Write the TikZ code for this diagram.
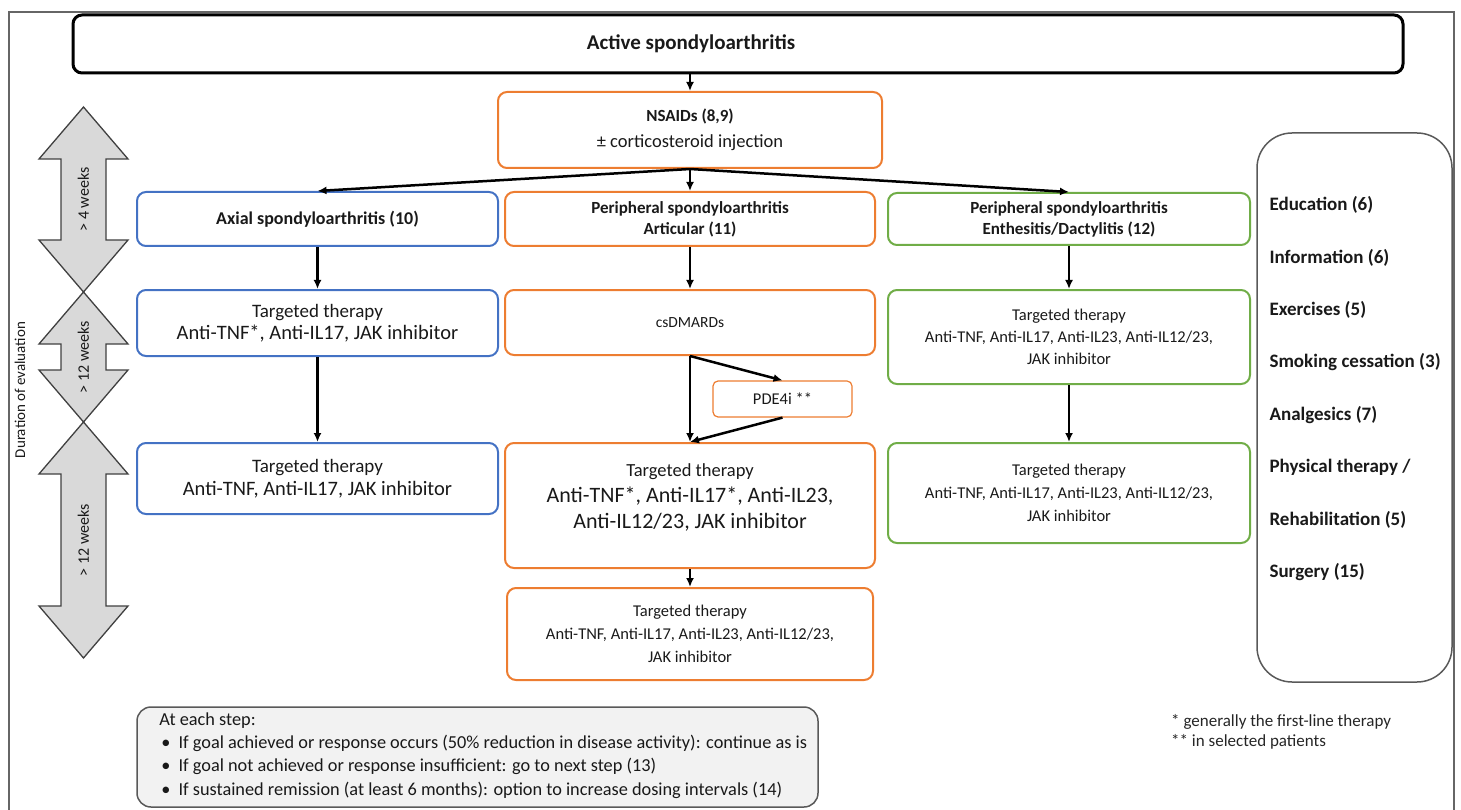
\documentclass[tikz,border=0pt]{standalone}
\usepackage{fontspec}
\setmainfont{Carlito}
\usetikzlibrary{arrows.meta}
\definecolor{axblue}{HTML}{4472C4}
\definecolor{perorange}{HTML}{ED7D31}
\definecolor{entgreen}{HTML}{70AD47}
\definecolor{weekgray}{HTML}{D9D9D9}
\definecolor{notegray}{HTML}{F2F2F2}
\newcommand{\fsz}[2]{\fontsize{#1}{#2}\selectfont}
\tikzset{
  box/.style={draw, rounded corners=9pt, line width=2pt, align=center, inner sep=1pt, text=black!90},
  axbox/.style={box, draw=axblue, minimum width=361pt},
  perbox/.style={box, draw=perorange, minimum width=370pt},
  entbox/.style={box, draw=entgreen, minimum width=362pt},
  link/.style={-{Latex[length=9pt,width=8pt]}, line width=2.5pt},
}
\begin{document}
\begin{tikzpicture}[x=1pt, y=-1pt]
\useasboundingbox (0,0) rectangle (1461,810);
\draw[black!60, line width=1.2pt] (9,815) -- (9,12) -- (1454,12) -- (1454,815);

% start and first line
\node[box, draw=black, line width=3pt, minimum width=1330pt, minimum height=58pt, font=\fsz{21}{24}\bfseries] (title) at (738,44) {Active spondyloarthritis\hspace*{94pt}};
\node[box, draw=perorange, minimum width=384pt, minimum height=76pt, font=\fsz{18.5}{26}] (nsaid) at (690,130) {{\fsz{17}{26}\bfseries NSAIDs (8,9)}\\± corticosteroid injection};

% three forms
\node[axbox, minimum height=54pt, font=\fsz{18}{21}\bfseries] (axial) at (317.5,219) {Axial spondyloarthritis (10)};
\node[perbox, minimum height=54pt, font=\fsz{17}{21}\bfseries] (artic) at (690,219) {Peripheral spondyloarthritis\\Articular (11)};
\node[entbox, minimum height=52pt, font=\fsz{17}{21}\bfseries] (enth) at (1069,219) {Peripheral spondyloarthritis\\Enthesitis/Dactylitis (12)};

% second step
\node[axbox, minimum height=66pt, font=\fsz{19}{22}] (axtt1) at (317.5,323) {Targeted therapy\\{\fsz{20.5}{22}Anti-TNF*, Anti-IL17, JAK inhibitor}};
\node[perbox, minimum height=65pt, font=\fsz{15.5}{20}] (csdm) at (690,322.5) {csDMARDs};
\node[entbox, minimum height=94pt, font=\fsz{16.5}{22}] (enttt1) at (1069,337) {Targeted therapy\\Anti-TNF, Anti-IL17, Anti-IL23, Anti-IL12/23,\\JAK inhibitor};
\node[box, draw=perorange, line width=1.2pt, rounded corners=5pt, minimum width=139pt, minimum height=36pt, font=\fsz{16.5}{18}] (pde) at (782.5,399) {PDE4i **};

% third step
\node[axbox, minimum height=71pt, font=\fsz{19}{23}] (axtt2) at (317.5,478.5) {Targeted therapy\\{\fsz{20.5}{23}Anti-TNF, Anti-IL17, JAK inhibitor}};
\node[perbox, minimum height=125pt, text depth=19pt, font=\fsz{18.5}{26}] (pertt1) at (690,505.5) {Targeted therapy\\{\fsz{22}{26}Anti-TNF*, Anti-IL17*, Anti-IL23,}\\{\fsz{22}{26}Anti-IL12/23, JAK inhibitor}};
\node[entbox, minimum height=100pt, font=\fsz{16.5}{23}] (enttt2) at (1069,493) {Targeted therapy\\Anti-TNF, Anti-IL17, Anti-IL23, Anti-IL12/23,\\JAK inhibitor};

% fourth step
\node[box, draw=perorange, minimum width=366pt, minimum height=92pt, font=\fsz{16.5}{23}] (pertt2) at (690,634) {Targeted therapy\\Anti-TNF, Anti-IL17, Anti-IL23, Anti-IL12/23,\\JAK inhibitor};

% arrows
\draw[link] (title.south -| nsaid.north) -- (nsaid.north);
\foreach \dst in {axial, artic, enth}
  \draw[link] (nsaid.south) -- (\dst.north);
\draw[link] (axial) -- (axtt1);
\draw[link] (axtt1) -- (axtt2);
\draw[link] (artic) -- (csdm);
\draw[link] (csdm) -- (pertt1);
\draw[link] (csdm.south) -- (pde.north);
\draw[link] (pde.south) -- (pertt1.north);
\draw[link] (pertt1) -- (pertt2);
\draw[link] (enth) -- (enttt1);
\draw[link] (enttt1) -- (enttt2);

% duration arrows
\foreach \ya/\yb/\lbl [count=\i] in {107/292/{> 4 weeks}, 292/422/{> 12 weeks}, 422/658/{> 12 weeks}}
{
  \draw[fill=weekgray, draw=black!75, line width=1.3pt] (83.5,\ya) -- (128,{\ya+52}) -- (106,{\ya+52}) -- (106,{\yb-52}) -- (128,{\yb-52}) -- (83.5,\yb)
    -- (39,{\yb-52}) -- (61,{\yb-52}) -- (61,{\ya+52}) -- (39,{\ya+52}) -- cycle;
  \node[rotate=90, font=\fsz{16}{18}, text=black!90] (week\i) at (83.5,{(\ya+\yb)/2}) {\lbl};
}
\node[rotate=90, font=\fsz{15}{17}, text=black!90] (durat) at (20,390) {Duration of evaluation};

% general measures
\node[draw=black!65, line width=1.5pt, rounded corners=35pt, minimum width=195pt, minimum height=549pt] (care) at (1354.5,407.5) {};
\foreach \txt [count=\i] in {Education (6), Information (6), Exercises (5), Smoking cessation (3), Analgesics (7), Physical therapy /, Rehabilitation (5), Surgery (15)}
  \node[anchor=west, font=\fsz{19}{21}\bfseries, text=black!90] (care\i) at (1266,{205+52.5*(\i-1)}) {\txt};

% rules at each step
\node[draw=black!65, fill=notegray, line width=1.5pt, rounded corners=14pt, minimum width=681pt, minimum height=100pt] (rules) at (477.5,757) {};
\node[anchor=north west, align=left, inner sep=0pt, font=\fsz{18.3}{23.3}, text=black!90] (rulestext) at ([xshift=23pt, yshift=-6pt]rules.north west)
  {At each step:\\
   \hspace*{2pt}\textbullet\hspace{8pt}If goal achieved or response occurs (50\% reduction in disease activity): continue as is\\
   \hspace*{2pt}\textbullet\hspace{8pt}If goal not achieved or response insufficient: go to next step (13)\\
   \hspace*{2pt}\textbullet\hspace{8pt}If sustained remission (at least 6 months): option to increase dosing intervals (14)};

% footnotes
\node[anchor=north west, align=left, inner sep=0pt, font=\fsz{17}{20}, text=black!85] (notes) at (1171,714)
  {* generally the first-line therapy\\** in selected patients};
\end{tikzpicture}
\end{document}
